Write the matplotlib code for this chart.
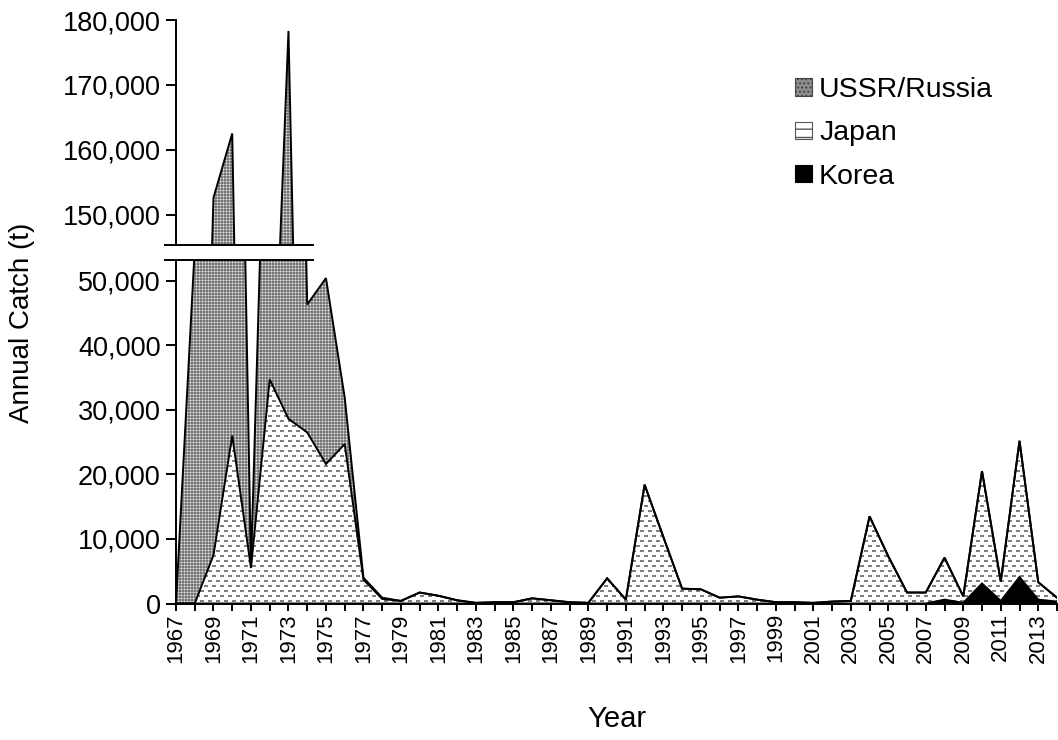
import matplotlib.pyplot as plt
import numpy as np
from matplotlib.patches import Patch
from matplotlib.ticker import FuncFormatter, MultipleLocator

plt.rcParams["font.family"] = ["Liberation Sans", "DejaVu Sans"]

YEARS = list(range(1967, 2015))

# annual catch in tonnes, one value per year 1967-2014
RUSSIA = [
    0, 55000, 145100, 136500, 200, 70300, 149700, 19800, 28800, 7200,
    300, 200, 0, 0, 0, 0, 0, 0, 0, 0,
    0, 0, 0, 0, 0, 0, 0, 0, 0, 0,
    0, 0, 0, 0, 0, 0, 0, 0, 0, 0,
    0, 0, 0, 0, 0, 0, 0, 0,
]
JAPAN = [
    0, 0, 7500, 26000, 5500, 34700, 28600, 26500, 21600, 24700,
    3700, 700, 400, 1700, 1200, 500, 100, 200, 200, 800,
    500, 200, 100, 3900, 600, 18400, 10300, 2300, 2200, 900,
    1100, 600, 200, 200, 100, 300, 400, 13500, 7300, 1700,
    1700, 6500, 1000, 17400, 3000, 21100, 2700, 600,
]
KOREA = [
    0, 0, 0, 0, 0, 0, 0, 0, 0, 0,
    0, 0, 0, 0, 0, 0, 0, 0, 0, 0,
    0, 0, 0, 0, 0, 0, 0, 0, 0, 0,
    0, 0, 0, 0, 0, 0, 0, 0, 0, 0,
    0, 600, 100, 3100, 400, 4100, 600, 300,
]
SERIES_LABELS = ["USSR/Russia", "Japan", "Korea"]

W, H, DPI = 1058, 740, 100
LOWER_LIM = (0, 53200)
UPPER_LIM = (145300, 180000)

# pixel textures for the two patterned areas
rows, cols = np.indices((H, W))
dots = np.full((H, W), 0.47)
dots[(rows % 3 == 1) | (cols % 3 == 1)] = 0.64
dots[(rows % 3 == 1) & (cols % 3 == 1)] = 0.92
dashes = np.ones((H, W))
shift = ((rows // 5) % 2) * 4
dashes[(rows % 5 < 2) & ((cols + shift) % 8 < 4)] = 0.5
TEXTURES = {
    "dots": np.dstack([dots] * 3),
    "dashes": np.dstack([dashes] * 3),
}

korea = np.array(KOREA, dtype=float)
japan_top = korea + np.array(JAPAN, dtype=float)
total = japan_top + np.array(RUSSIA, dtype=float)

fig = plt.figure(figsize=(W / DPI, H / DPI), dpi=DPI)
left, width = 176 / W, 881 / W
ax_top = fig.add_axes([left, (H - 245) / H, width, 225 / H])
ax_low = fig.add_axes([left, (H - 603.5) / H, width, 343.5 / H])


def textured_area(ax, lo, hi, texture):
    poly = ax.fill_between(YEARS, lo, hi, facecolor="none", edgecolor="none")
    img = fig.figimage(TEXTURES[texture], xo=0, yo=0, origin="upper", zorder=-1)
    img.set_clip_box(ax.bbox)
    img.set_clip_path(poly.get_paths()[0], ax.transData)


for ax in (ax_top, ax_low):
    ax.patch.set_visible(False)
    textured_area(ax, japan_top, total, "dots")
    textured_area(ax, korea, japan_top, "dashes")
    ax.fill_between(YEARS, 0, korea, facecolor="black", edgecolor="none")
    for line in (korea, japan_top, total):
        ax.plot(YEARS, line, color="black", linewidth=1.4, solid_joinstyle="miter")
    ax.set_xlim(1967, 2014)
    for side in ("top", "right", "bottom"):
        ax.spines[side].set_visible(False)
    ax.spines["left"].set_linewidth(1.4)
    ax.yaxis.set_major_locator(MultipleLocator(10000))
    ax.yaxis.set_major_formatter(FuncFormatter(lambda v, _: f"{v:,.0f}"))
    ax.tick_params(axis="y", direction="out", length=7.5, width=1.4,
                   labelsize=19.5, pad=3.5)

ax_top.set_ylim(*UPPER_LIM)
ax_low.set_ylim(*LOWER_LIM)
ax_top.set_xticks([])

ax_low.spines["bottom"].set_visible(True)
ax_low.spines["bottom"].set_linewidth(1.4)
ax_low.set_xticks(YEARS)
ax_low.set_xticklabels([str(y) if (y - 1967) % 2 == 0 else "" for y in YEARS],
                       rotation=90)
ax_low.tick_params(axis="x", direction="out", length=5, width=1.4,
                   labelsize=16, pad=2)

# broken-axis markers across the gap between the two panels
for ax, yb in ((ax_top, 0), (ax_low, 1)):
    ax.plot([-0.0125, 0.1555], [yb, yb], transform=ax.transAxes,
            color="black", linewidth=1.4, clip_on=False)

fig.text(0.0208, 0.5635, "Annual Catch (t)", rotation=90,
         ha="center", va="center", fontsize=20)
fig.text(0.583, 0.029, "Year", ha="center", va="center", fontsize=21)

handles = [
    Patch(facecolor="#8f8f8f", edgecolor="#444444", hatch="....", linewidth=0.8),
    Patch(facecolor="white", edgecolor="#555555", hatch="--", linewidth=0.8),
    Patch(facecolor="black", edgecolor="black", linewidth=0.8),
]
fig.legend(handles, SERIES_LABELS, loc="upper left",
           bbox_to_anchor=(784 / W, (H - 66) / H), frameon=False,
           fontsize=20.5, handlelength=0.58, handleheight=0.58,
           handletextpad=0.25, labelspacing=0.6, borderaxespad=0)

fig.savefig("out.png", dpi=DPI)
